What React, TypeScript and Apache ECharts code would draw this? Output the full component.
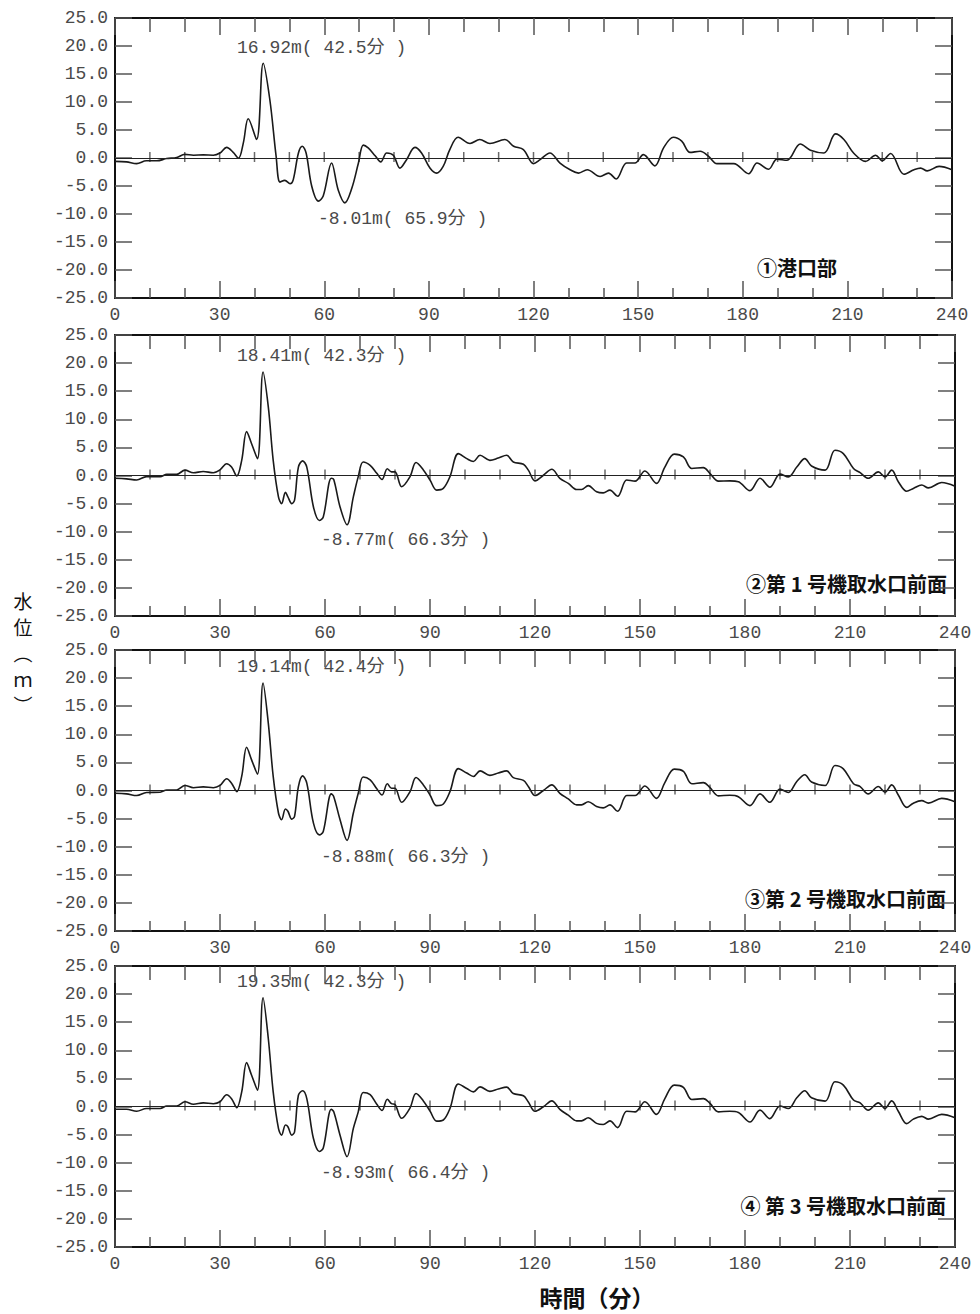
import React, { useEffect, useRef } from "react";
import * as echarts from "echarts";

// ---------- data ----------
const TIME_P1 = [
  0, 3.3, 6.2, 9, 12, 14.8, 17.7, 20, 22.5, 25.3, 28.2, 30.1, 32, 33.9, 35.4, 36.8, 38.2, 40.6, 42.5, 44.4,
  46.2, 47.3, 48.7, 50.2, 51.1, 52.6, 53.7, 54.8, 56.4, 58.3, 59.7, 62.1, 64, 65.9, 67.9, 69.8, 71.2, 72.6, 74.6, 76.2,
  77.9, 79.8, 81.7, 83.6, 86, 87.9, 90.3, 92.2, 94.1, 96, 98.4, 101.8, 104.6, 107.5, 111.8, 114.3, 117.1, 120, 121.9, 124.7,
  127.6, 130.5, 132.9, 135.4, 139.1, 141.5, 143.7, 146.7, 149.1, 151.5, 154.8, 157.3, 160.1, 162.5, 164.9, 167.8, 170.2, 172.6, 177.4, 181.7,
  184.1, 187.4, 189.8, 192.7, 196.5, 199.4, 203.3, 206.6, 209, 211.9, 215.2, 218.1, 220, 222.4, 226.2, 229.1, 231, 232.9, 236.3, 240,
];
const LEVEL_P1 = [
  -0.6, -0.7, -1.0, -0.5, -0.5, -0.1, 0.1, 0.65, 0.5, 0.55, 0.5, 0.9, 1.9, 1.0, -0.05, 2.7, 7.0, 3.3, 16.92, 10.4,
  0.3, -4.3, -4.0, -4.6, -3.9, 0.9, 2.1, 0.9, -5.0, -7.7, -6.8, -0.9, -5.7, -8.01, -5.4, -0.9, 2.3, 1.8, 0.4, -0.7,
  0.9, 0.5, -1.8, -0.3, 1.9, 0.9, -1.8, -2.7, -1.5, 1.5, 3.7, 2.6, 3.3, 2.6, 3.3, 2.1, 1.5, -1.0, -0.3, 0.9,
  -0.9, -2.1, -2.7, -2.1, -3.3, -2.7, -3.75, -0.9, -0.9, 0.6, -1.4, 1.8, 3.7, 3.0, 1.0, 1.2, 0.3, -1.0, -1.0, -2.8,
  -0.9, -2.0, -0.2, -0.4, 2.5, 1.4, 0.9, 4.3, 3.3, 0.8, -0.6, 0.5, -0.5, 0.8, -2.9, -2.1, -1.8, -2.3, -1.5, -2.1,
];

const TIME_P234 = [
  0, 3.3, 6.2, 9, 12.9, 14.8, 17.6, 20, 22.4, 25.2,
  28.1, 30, 31.9, 33.3, 34.8, 36.2, 37.6, 39, 40.7, 42.3,
  43.8, 45.2, 46.7, 47.6, 48.7, 49.4, 50.5, 51.3, 52.4, 53.6,
  54.8, 56.7, 58.4, 59.5, 61.8, 62.5, 64.3, 66.3, 68.1, 69.5,
  70.9, 72.9, 74.8, 76.3, 77.8, 79, 80, 81.9, 84.3, 86,
  88.1, 90, 91.9, 93.8, 95.7, 98.1, 100.5, 102.4, 104.3, 107.1,
  109.5, 111.9, 113.8, 116.7, 118.1, 120, 122.4, 124.8, 127.1, 129.5,
  131.9, 133.3, 135.2, 137.6, 139.5, 141.4, 143.6, 146.2, 148.6, 151.4,
  154.7, 157.1, 159.8, 162.4, 164.8, 168.1, 170, 172.4, 175.7, 178.1,
  181.4, 184.3, 187.1, 190, 192.4, 194.8, 197.1, 199, 202.9, 205.7,
  208.1, 211, 212.9, 215.2, 218.1, 220, 221.9, 223.8, 226.2, 228.1,
  230.5, 232.4, 236.2, 240,
];
const LEVEL_P2 = [
  -0.5, -0.6, -0.8, -0.2, -0.2, 0.2, 0.2, 0.95, 0.5, 0.7,
  0.5, 1.0, 2.1, 1.5, -0.1, 2.7, 7.8, 5.7, 3.0, 18.41,
  12.2, 2.7, -3.8, -5.0, -3.0, -3.8, -5.0, -4.4, 1.5, 2.6,
  1.5, -5.6, -8.0, -7.4, -0.5, -0.7, -5.6, -8.77, -3.8, -0.2,
  2.4, 1.8, 0.4, -0.7, 1.2, 0.65, 0.65, -2.0, -0.2, 2.3,
  1.0, -0.8, -2.6, -2.3, -0.2, 3.9, 3.0, 2.5, 3.6, 2.7,
  3.1, 3.6, 2.4, 2.0, 0.95, -0.95, 0.05, 1.1, -0.5, -1.4,
  -2.5, -2.5, -1.8, -2.9, -3.1, -2.6, -3.7, -0.8, -1.0, 0.8,
  -1.4, 1.5, 3.8, 3.3, 1.25, 1.4, 0.35, -1.0, -0.95, -1.1,
  -2.7, -0.5, -2.1, 0.25, -0.25, 1.5, 3.0, 1.7, 0.95, 4.5,
  3.9, 1.25, 0.5, -0.5, 0.65, -0.25, 0.95, -1.1, -2.8, -2.3,
  -1.7, -2.2, -1.25, -1.9,
];
const LEVEL_P3 = [
  -0.5, -0.6, -0.9, -0.35, -0.3, 0.1, 0.1, 0.9, 0.5, 0.65,
  0.5, 0.9, 2.1, 1.3, -0.2, 2.5, 7.7, 5.5, 2.9, 19.14,
  12.0, 2.5, -4.0, -5.2, -3.3, -3.7, -5.1, -4.6, 0.7, 2.6,
  1.3, -5.8, -7.9, -7.3, -0.6, -1.1, -5.2, -8.88, -4.0, -0.5,
  2.4, 1.9, 0.3, -0.8, 1.2, 0.4, 0.4, -2.1, -0.2, 2.3,
  1.0, -0.8, -2.7, -2.4, -0.2, 3.9, 3.1, 2.5, 3.5, 2.7,
  3.1, 3.5, 2.3, 1.8, 0.7, -0.9, 0, 1.0, -0.5, -1.5,
  -2.55, -2.55, -2.0, -2.85, -3.1, -2.55, -3.7, -0.9, -0.9, 0.8,
  -1.4, 1.4, 3.8, 3.4, 1.2, 1.4, 0.5, -0.95, -0.85, -1.1,
  -2.7, -0.6, -2.1, 0.25, -0.35, 1.6, 2.8, 1.5, 0.9, 4.45,
  3.85, 1.2, 0.7, -0.6, 0.7, -0.3, 1.0, -0.8, -3.0, -2.25,
  -1.8, -2.25, -1.4, -2.0,
];
const LEVEL_P4 = [
  -0.5, -0.5, -0.85, -0.35, -0.35, 0.1, 0.1, 0.85, 0.4, 0.65,
  0.5, 0.85, 2.1, 1.4, -0.2, 2.6, 7.8, 5.6, 2.9, 19.35,
  12.1, 2.6, -3.9, -5.1, -3.3, -3.6, -5.1, -4.5, 2.0, 2.8,
  1.4, -5.7, -8.0, -7.4, -0.5, -0.95, -5.1, -8.93, -3.9, -0.95,
  2.5, 2.1, 0.4, -0.7, 1.3, 0.5, 0.35, -2.1, -0.25, 2.3,
  1.0, -0.8, -2.6, -2.4, -0.35, 4.0, 3.2, 2.6, 3.5, 2.7,
  3.1, 3.45, 2.3, 1.9, 0.8, -0.85, -0.05, 1.0, -0.5, -1.55,
  -2.55, -2.55, -2.0, -3.0, -3.2, -2.55, -3.75, -0.85, -0.95, 0.85,
  -1.4, 1.4, 3.8, 3.4, 1.25, 1.4, 0.55, -0.95, -0.85, -1.05,
  -2.75, -0.65, -2.15, 0.1, -0.35, 1.55, 2.8, 1.55, 0.95, 4.4,
  3.8, 1.15, 0.65, -0.65, 0.65, -0.35, 1.0, -0.85, -3.05, -2.25,
  -1.75, -2.25, -1.4, -2.0,
];

const PANEL_NAMES = ["①港口部", "②第 1 号機取水口前面", "③第 2 号機取水口前面", "④ 第 3 号機取水口前面"];
const MAX_LABELS = ["16.92m( 42.5分 )", "18.41m( 42.3分 )", "19.14m( 42.4分 )", "19.35m( 42.3分 )"];
const MIN_LABELS = ["-8.01m( 65.9分 )", "-8.77m( 66.3分 )", "-8.88m( 66.3分 )", "-8.93m( 66.4分 )"];
const ZERO_TICK_TIMES = [10, 20, 30, 40, 50, 60, 70, 80, 90, 100, 110, 120, 130, 140, 150, 160, 170, 180, 190, 200, 210, 220, 230];
const Y_AXIS_TITLE_CHARS = ["水", "位", "︵", "ｍ", "︶"];
const X_AXIS_TITLE = "時間（分）";

const PANELS = [
  { time: TIME_P1, level: LEVEL_P1 },
  { time: TIME_P234, level: LEVEL_P2 },
  { time: TIME_P234, level: LEVEL_P3 },
  { time: TIME_P234, level: LEVEL_P4 },
];

// ---------- layout ----------
const GRID_LEFT = 115;
const GRIDS = [
  { top: 18, height: 280, width: 837 },
  { top: 335, height: 281, width: 840 },
  { top: 650, height: 281, width: 840 },
  { top: 966, height: 281, width: 840 },
];
const MAX_LABEL_Y = [48, 356, 667, 982];
const MIN_LABEL_Y = [219, 540, 857, 1173];
const NAME_POS = [
  { x: 837, y: 267 },
  { x: 947, y: 583 },
  { x: 946, y: 898 },
  { x: 946, y: 1205 },
];

const MONO = "'Liberation Mono', 'DejaVu Sans Mono', 'Noto Sans CJK JP', monospace";
const CJK = "'Noto Sans CJK JP', sans-serif";
const LABEL_COLOR = "#4a4a4a";
const FRAME = "#111";
const TICK = "#555";

export default function App() {
  const ref = useRef<HTMLDivElement>(null);

  useEffect(() => {
    if (!ref.current) return;
    const chart = echarts.init(ref.current, undefined, { renderer: "svg" });

    const grid: any[] = [];
    const xAxis: any[] = [];
    const yAxis: any[] = [];
    const series: any[] = [];
    const graphic: any[] = [];

    GRIDS.forEach((g, i) => {
      grid.push({ left: GRID_LEFT, top: g.top, width: g.width, height: g.height, containLabel: false });
      const xBase = {
        type: "value",
        gridIndex: i,
        min: 0,
        max: 240,
        interval: 30,
        splitLine: { show: false },
        axisLine: { show: true, onZero: false, lineStyle: { color: FRAME, width: 2 } },
      };
      xAxis.push({
        ...xBase,
        position: "bottom",
        axisTick: { show: true, inside: true, length: 17, lineStyle: { color: TICK, width: 1.5 } },
        minorTick: { show: true, splitNumber: 3, length: 10, lineStyle: { color: TICK, width: 1.5 } },
        axisLabel: { show: true, margin: 8, color: LABEL_COLOR, fontFamily: MONO, fontSize: 18 },
      });
      xAxis.push({
        ...xBase,
        position: "top",
        axisTick: { show: true, inside: true, length: 17, lineStyle: { color: TICK, width: 1.5 } },
        minorTick: { show: true, splitNumber: 3, length: 14, lineStyle: { color: TICK, width: 1.5 } },
        axisLabel: { show: false },
      });
      const yBase = {
        type: "value",
        gridIndex: i,
        min: -25,
        max: 25,
        interval: 5,
        splitLine: { show: false },
        axisLine: { show: true, onZero: false, lineStyle: { color: FRAME, width: 2 } },
        axisTick: { show: true, inside: true, length: 17, lineStyle: { color: TICK, width: 1.5 } },
      };
      yAxis.push({
        ...yBase,
        position: "left",
        axisLabel: {
          show: true,
          margin: 7,
          color: LABEL_COLOR,
          fontFamily: MONO,
          fontSize: 18,
          formatter: (v: number) => v.toFixed(1),
        },
      });
      yAxis.push({ ...yBase, position: "right", axisLabel: { show: false } });

      const p = PANELS[i];
      series.push({
        type: "line",
        xAxisIndex: 2 * i,
        yAxisIndex: 2 * i,
        data: p.time.map((t, k) => [t, p.level[k]]),
        showSymbol: false,
        smooth: 0.35,
        lineStyle: { color: "#1a1a1a", width: 1.6 },
        silent: true,
        markLine: {
          silent: true,
          symbol: ["none", "none"],
          label: { show: false },
          lineStyle: { color: "#222", width: 1, type: "solid" },
          data: [{ yAxis: 0 }],
        },
      });
      series.push({
        type: "scatter",
        xAxisIndex: 2 * i,
        yAxisIndex: 2 * i,
        data: ZERO_TICK_TIMES.map((t) => [t, 0]),
        symbol: "rect",
        symbolSize: [1.5, 10],
        symbolOffset: [0, -1],
        itemStyle: { color: "#444" },
        silent: true,
      });

      graphic.push({
        type: "text",
        x: 237,
        y: MAX_LABEL_Y[i],
        style: { text: MAX_LABELS[i], fill: LABEL_COLOR, font: `18px ${MONO}`, align: "left", verticalAlign: "middle" },
      });
      graphic.push({
        type: "text",
        x: i === 0 ? 318 : 321,
        y: MIN_LABEL_Y[i],
        style: { text: MIN_LABELS[i], fill: LABEL_COLOR, font: `18px ${MONO}`, align: "left", verticalAlign: "middle" },
      });
      graphic.push({
        type: "text",
        x: NAME_POS[i].x,
        y: NAME_POS[i].y,
        style: { text: PANEL_NAMES[i], fill: "#111", font: `bold 20px ${CJK}`, align: "right", verticalAlign: "middle" },
      });
    });

    Y_AXIS_TITLE_CHARS.forEach((ch, k) => {
      graphic.push({
        type: "text",
        x: 23,
        y: 600 + k * 26,
        style: { text: ch, fill: "#111", font: `19px ${CJK}`, align: "center", verticalAlign: "middle" },
      });
    });
    graphic.push({
      type: "text",
      x: 597,
      y: 1297,
      style: { text: X_AXIS_TITLE, fill: "#111", font: `bold 23px ${CJK}`, align: "center", verticalAlign: "middle" },
    });

    chart.setOption({
      animation: false,
      backgroundColor: "#fff",
      grid,
      xAxis,
      yAxis,
      series,
      graphic,
    });

    return () => chart.dispose();
  }, []);

  return (
    <div
      ref={ref}
      style={{ position: "absolute", left: 0, top: 0, width: 980, height: 1314, background: "#fff" }}
    />
  );
}
